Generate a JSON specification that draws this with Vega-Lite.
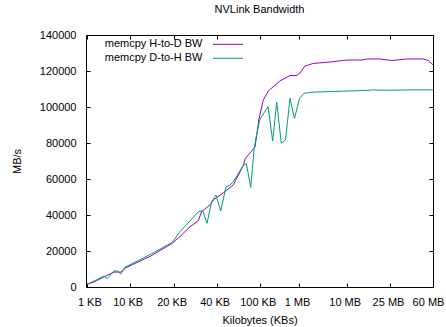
{
  "$schema": "https://vega.github.io/schema/vega-lite/v6.json",
  "autosize": "none",
  "width": 347,
  "height": 252,
  "padding": {"left": 86, "top": 35, "right": 13, "bottom": 40},
  "background": "white",
  "title": {"text": "NVLink Bandwidth", "fontSize": 11, "fontWeight": "normal", "font": "Liberation Sans", "anchor": "middle", "offset": 14, "color": "black"},
  "config": {
    "font": "Liberation Sans",
    "view": {"stroke": "black", "strokeWidth": 1},
    "axis": {
      "grid": false, "domain": false, "tickColor": "black", "tickSize": -4, "tickWidth": 1,
      "labelFont": "Liberation Sans", "labelFontSize": 11, "labelColor": "black",
      "labelOverlap": false, "labelFlush": false, "labelBound": false,
      "titleFont": "Liberation Sans", "titleFontSize": 11, "titleFontWeight": "normal", "titleColor": "black"
    }
  },
  "data": {"values": [
    {"series": "memcpy H-to-D BW", "idx": 1, "bw": 1500},
    {"series": "memcpy H-to-D BW", "idx": 8, "bw": 2800},
    {"series": "memcpy H-to-D BW", "idx": 18, "bw": 5600},
    {"series": "memcpy H-to-D BW", "idx": 28, "bw": 8300},
    {"series": "memcpy H-to-D BW", "idx": 34.7, "bw": 8300},
    {"series": "memcpy H-to-D BW", "idx": 39.7, "bw": 10600},
    {"series": "memcpy H-to-D BW", "idx": 64.7, "bw": 17200},
    {"series": "memcpy H-to-D BW", "idx": 86.3, "bw": 24300},
    {"series": "memcpy H-to-D BW", "idx": 95, "bw": 28600},
    {"series": "memcpy H-to-D BW", "idx": 104, "bw": 33500},
    {"series": "memcpy H-to-D BW", "idx": 112.3, "bw": 36900},
    {"series": "memcpy H-to-D BW", "idx": 115.7, "bw": 41900},
    {"series": "memcpy H-to-D BW", "idx": 124, "bw": 45600},
    {"series": "memcpy H-to-D BW", "idx": 127.3, "bw": 48300},
    {"series": "memcpy H-to-D BW", "idx": 137.3, "bw": 52300},
    {"series": "memcpy H-to-D BW", "idx": 147.3, "bw": 56700},
    {"series": "memcpy H-to-D BW", "idx": 157.5, "bw": 67800},
    {"series": "memcpy H-to-D BW", "idx": 159, "bw": 71100},
    {"series": "memcpy H-to-D BW", "idx": 169, "bw": 77800},
    {"series": "memcpy H-to-D BW", "idx": 173, "bw": 93300},
    {"series": "memcpy H-to-D BW", "idx": 177.3, "bw": 103900},
    {"series": "memcpy H-to-D BW", "idx": 182.3, "bw": 108900},
    {"series": "memcpy H-to-D BW", "idx": 194, "bw": 114500},
    {"series": "memcpy H-to-D BW", "idx": 204, "bw": 117500},
    {"series": "memcpy H-to-D BW", "idx": 210.7, "bw": 117500},
    {"series": "memcpy H-to-D BW", "idx": 214, "bw": 118900},
    {"series": "memcpy H-to-D BW", "idx": 219, "bw": 122800},
    {"series": "memcpy H-to-D BW", "idx": 227.3, "bw": 124200},
    {"series": "memcpy H-to-D BW", "idx": 244, "bw": 125000},
    {"series": "memcpy H-to-D BW", "idx": 261, "bw": 126100},
    {"series": "memcpy H-to-D BW", "idx": 275.7, "bw": 126100},
    {"series": "memcpy H-to-D BW", "idx": 282.3, "bw": 126700},
    {"series": "memcpy H-to-D BW", "idx": 294, "bw": 126700},
    {"series": "memcpy H-to-D BW", "idx": 305.7, "bw": 125800},
    {"series": "memcpy H-to-D BW", "idx": 320.7, "bw": 126700},
    {"series": "memcpy H-to-D BW", "idx": 337.3, "bw": 126700},
    {"series": "memcpy H-to-D BW", "idx": 342.3, "bw": 125800},
    {"series": "memcpy H-to-D BW", "idx": 347, "bw": 123500},
    {"series": "memcpy D-to-H BW", "idx": 1, "bw": 1500},
    {"series": "memcpy D-to-H BW", "idx": 8, "bw": 3300},
    {"series": "memcpy D-to-H BW", "idx": 18, "bw": 6100},
    {"series": "memcpy D-to-H BW", "idx": 21.3, "bw": 4700},
    {"series": "memcpy D-to-H BW", "idx": 28, "bw": 8900},
    {"series": "memcpy D-to-H BW", "idx": 31.3, "bw": 8900},
    {"series": "memcpy D-to-H BW", "idx": 34.7, "bw": 7200},
    {"series": "memcpy D-to-H BW", "idx": 38.7, "bw": 10900},
    {"series": "memcpy D-to-H BW", "idx": 64.7, "bw": 18200},
    {"series": "memcpy D-to-H BW", "idx": 86.3, "bw": 24800},
    {"series": "memcpy D-to-H BW", "idx": 94, "bw": 30800},
    {"series": "memcpy D-to-H BW", "idx": 104, "bw": 36700},
    {"series": "memcpy D-to-H BW", "idx": 112.3, "bw": 41800},
    {"series": "memcpy D-to-H BW", "idx": 116.7, "bw": 42400},
    {"series": "memcpy D-to-H BW", "idx": 121, "bw": 35400},
    {"series": "memcpy D-to-H BW", "idx": 125.7, "bw": 47400},
    {"series": "memcpy D-to-H BW", "idx": 130, "bw": 51100},
    {"series": "memcpy D-to-H BW", "idx": 134.7, "bw": 42200},
    {"series": "memcpy D-to-H BW", "idx": 140, "bw": 55600},
    {"series": "memcpy D-to-H BW", "idx": 144, "bw": 56700},
    {"series": "memcpy D-to-H BW", "idx": 147.3, "bw": 58500},
    {"series": "memcpy D-to-H BW", "idx": 156.5, "bw": 66900},
    {"series": "memcpy D-to-H BW", "idx": 160.3, "bw": 68700},
    {"series": "memcpy D-to-H BW", "idx": 164.7, "bw": 55300},
    {"series": "memcpy D-to-H BW", "idx": 168, "bw": 76100},
    {"series": "memcpy D-to-H BW", "idx": 170.5, "bw": 84400},
    {"series": "memcpy D-to-H BW", "idx": 174, "bw": 93300},
    {"series": "memcpy D-to-H BW", "idx": 182, "bw": 100200},
    {"series": "memcpy D-to-H BW", "idx": 186.7, "bw": 81100},
    {"series": "memcpy D-to-H BW", "idx": 190.7, "bw": 102700},
    {"series": "memcpy D-to-H BW", "idx": 195.3, "bw": 79800},
    {"series": "memcpy D-to-H BW", "idx": 199.5, "bw": 81700},
    {"series": "memcpy D-to-H BW", "idx": 204, "bw": 104800},
    {"series": "memcpy D-to-H BW", "idx": 208.5, "bw": 93700},
    {"series": "memcpy D-to-H BW", "idx": 213.5, "bw": 104800},
    {"series": "memcpy D-to-H BW", "idx": 218, "bw": 107600},
    {"series": "memcpy D-to-H BW", "idx": 225.7, "bw": 108200},
    {"series": "memcpy D-to-H BW", "idx": 239, "bw": 108500},
    {"series": "memcpy D-to-H BW", "idx": 264, "bw": 108900},
    {"series": "memcpy D-to-H BW", "idx": 280.7, "bw": 109200},
    {"series": "memcpy D-to-H BW", "idx": 285.7, "bw": 109500},
    {"series": "memcpy D-to-H BW", "idx": 300.7, "bw": 109300},
    {"series": "memcpy D-to-H BW", "idx": 327.3, "bw": 109500},
    {"series": "memcpy D-to-H BW", "idx": 347, "bw": 109500}
  ]},
  "layer": [
    {
      "mark": {"type": "line", "strokeWidth": 1, "clip": true},
      "encoding": {
        "x": {"field": "idx", "type": "quantitative", "scale": {"domain": [0, 347], "nice": false, "zero": false},
          "axis": {"orient": "bottom", "values": [1.3, 43.7, 87.7, 130.7, 173.7, 213, 260.7, 304, 347], "labelPadding": 13,
            "labelOffset": {"condition": [{"test": "datum.value < 20", "value": 2}, {"test": "datum.value > 340", "value": -5}], "value": -2},
            "title": "Kilobytes (KBs)", "titlePadding": 7,
            "labelExpr": "datum.value < 20 ? '1 KB' : datum.value < 60 ? '10 KB' : datum.value < 100 ? '20 KB' : datum.value < 150 ? '40 KB' : datum.value < 190 ? '100 KB' : datum.value < 230 ? '1 MB' : datum.value < 280 ? '10 MB' : datum.value < 320 ? '25 MB' : '60 MB'"}},
        "y": {"field": "bw", "type": "quantitative", "scale": {"domain": [0, 140000], "nice": false},
          "axis": {"orient": "left", "values": [0, 20000, 40000, 60000, 80000, 100000, 120000, 140000], "format": "d", "labelPadding": 14, "title": "MB/s", "titlePadding": 17}},
        "color": {"field": "series", "type": "nominal",
          "scale": {"domain": ["memcpy H-to-D BW", "memcpy D-to-H BW"], "range": ["#9400D3", "#009E73"]},
          "legend": {"orient": "none", "legendX": 136.5, "legendY": 3.8, "title": null, "padding": 0, "symbolType": "M-3,0H3", "symbolSize": 100, "symbolStrokeWidth": 1, "labelAlign": "right", "labelOffset": -31, "labelFontSize": 11, "labelFont": "Liberation Sans", "labelColor": "black", "rowPadding": 2}}
      }
    },
    {
      "mark": {"type": "line", "opacity": 0},
      "encoding": {
        "x": {"field": "idx", "type": "quantitative", "scale": {"domain": [0, 347], "nice": false, "zero": false},
          "axis": {"orient": "top", "values": [1.3, 43.7, 87.7, 130.7, 173.7, 213, 260.7, 304, 347], "labels": false, "title": null}},
        "y": {"field": "bw", "type": "quantitative", "scale": {"domain": [0, 140000], "nice": false},
          "axis": {"orient": "right", "values": [0, 20000, 40000, 60000, 80000, 100000, 120000, 140000], "labels": false, "title": null}},
        "detail": {"field": "series"}
      }
    }
  ],
  "resolve": {"axis": {"x": "independent", "y": "independent"}}
}
